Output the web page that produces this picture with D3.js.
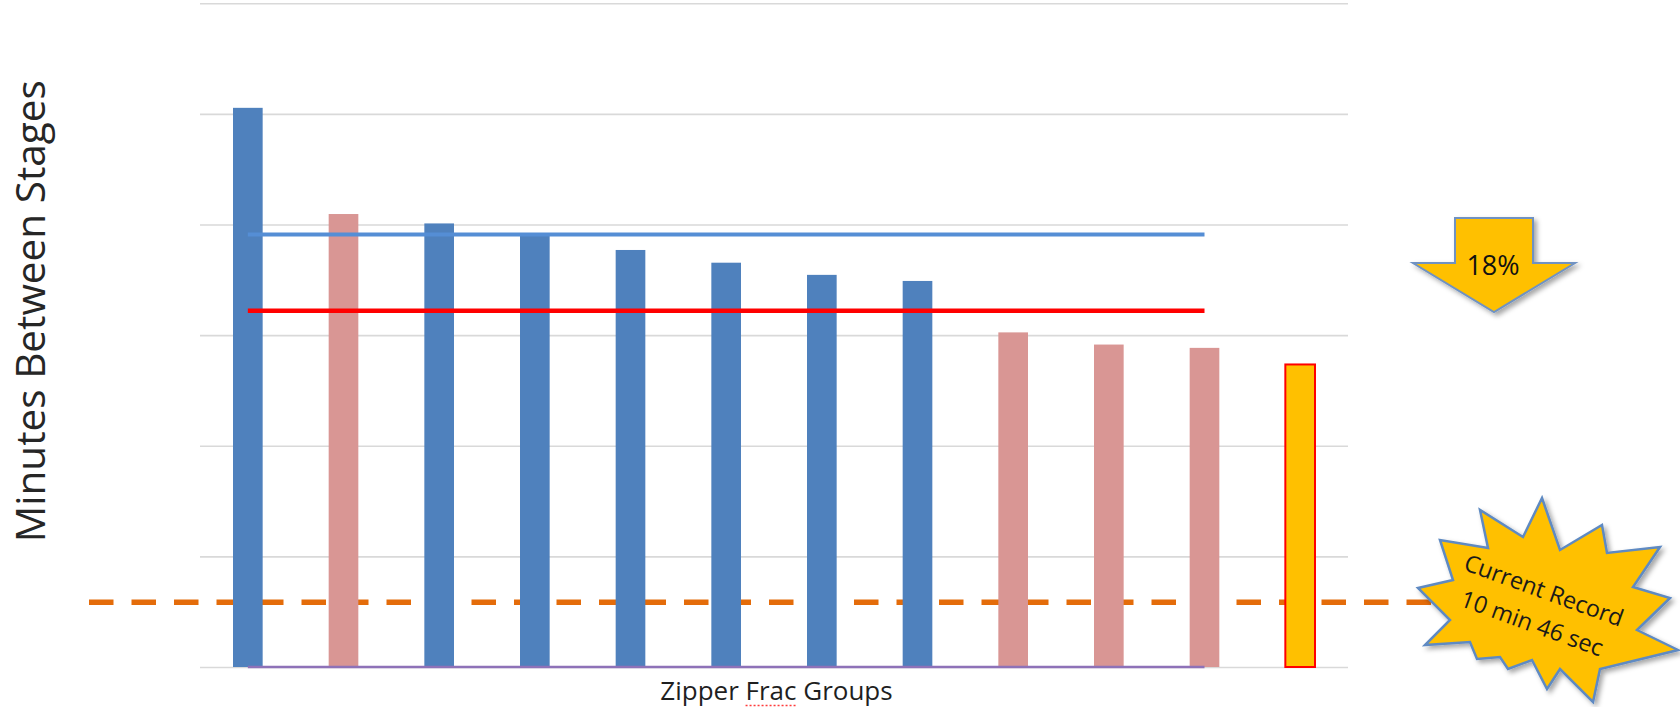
<!DOCTYPE html>
<html><head><meta charset="utf-8">
<script src="https://cdn.jsdelivr.net/npm/d3@7/dist/d3.min.js"></script>
<style>html,body{margin:0;padding:0;background:#fff;overflow:hidden}</style>
</head><body><svg id="chart" width="1680" height="707"></svg>
<script>
// ---------- data ----------
const categories = ["1","2","3","4","5","6","7","8","9","10","11","12"];
const groupTypes = ["blue","pink","blue","blue","blue","blue","blue","blue","pink","pink","pink","current"];
const minutes = [101.1, 81.9, 80.2, 78.1, 75.4, 73.1, 70.9, 69.8, 60.5, 58.3, 57.7, 54.7];
const lineCategories = ["1","2","3","4","5","6","7","8","9","10","11"];
const blueAverage = [78.2, 78.2, 78.2, 78.2, 78.2, 78.2, 78.2, 78.2, 78.2, 78.2, 78.2];
const redAverage  = [64.4, 64.4, 64.4, 64.4, 64.4, 64.4, 64.4, 64.4, 64.4, 64.4, 64.4];
const baseSeries  = [0, 0, 0, 0, 0, 0, 0, 0, 0, 0, 0];
const yTicks = [0, 20, 40, 60, 80, 100, 120];
const recordMinutes = 11.7;
const recordLabel = ["Current Record", "10 min 46 sec"];
const reductionLabel = "18%";
const xTitle = "Zipper Frac Groups";
const yTitle = "Minutes Between Stages";

// ---------- layout ----------
const svg = d3.select("#chart");
const plot = {left: 200, right: 1348, top: 3.3, bottom: 667};
const colors = {blue: "#4F81BD", pink: "#D99694", current: "#FFC000"};

const x = d3.scaleBand().domain(categories).range([plot.left, plot.right])
  .paddingInner(0.69).paddingOuter(0.345);
const y = d3.scaleLinear().domain([0, 120]).range([plot.bottom, plot.top]);
const cx = c => x(c) + x.bandwidth() / 2;

const defs = svg.append("defs");
defs.append("filter").attr("id", "shadow").attr("x", "-20%").attr("y", "-20%")
  .attr("width", "150%").attr("height", "150%")
  .append("feDropShadow").attr("dx", 3).attr("dy", 3).attr("stdDeviation", 2.5)
  .attr("flood-color", "#000").attr("flood-opacity", 0.35);

// gridlines
const grid = svg.append("g").attr("transform", `translate(${plot.left},0)`)
  .call(d3.axisLeft(y).tickValues(yTicks).tickSize(-(plot.right - plot.left)).tickFormat(""));
grid.select(".domain").remove();
grid.selectAll(".tick line").attr("stroke", "#D9D9D9").attr("stroke-width", 1.6);

// record dashed line (behind bars)
svg.append("line")
  .attr("x1", plot.left - 111).attr("x2", plot.right + 92)
  .attr("y1", y(recordMinutes)).attr("y2", y(recordMinutes))
  .attr("stroke", "#E46C0A").attr("stroke-width", 5.5)
  .attr("stroke-dasharray", "24.5 18");

// bars
svg.append("g").selectAll("rect").data(minutes).join("rect")
  .attr("x", (d, i) => x(categories[i]))
  .attr("y", d => y(d))
  .attr("width", x.bandwidth())
  .attr("height", d => y(0) - y(d))
  .attr("fill", (d, i) => colors[groupTypes[i]])
  .attr("stroke", (d, i) => groupTypes[i] === "current" ? "#FF0000" : "none")
  .attr("stroke-width", 2);

// average lines
const line = d3.line().x((d, i) => cx(lineCategories[i])).y(d => y(d));
svg.append("path").datum(baseSeries).attr("d", line)
  .attr("fill", "none").attr("stroke", "#8E72B8").attr("stroke-width", 2.5);
svg.append("path").datum(blueAverage).attr("d", line)
  .attr("fill", "none").attr("stroke", "#558ED5").attr("stroke-width", 4);
svg.append("path").datum(redAverage).attr("d", line)
  .attr("fill", "none").attr("stroke", "#FF0000").attr("stroke-width", 4.5);

// axis titles
svg.append("text")
  .attr("transform", `translate(45,${(plot.top + plot.bottom) / 2 - 24}) rotate(-90)`)
  .attr("text-anchor", "middle")
  .attr("font-family", "'Open Sans', sans-serif").attr("font-size", 40.5)
  .attr("fill", "#262626").text(yTitle);

const xt = svg.append("text")
  .attr("x", (plot.left + plot.right) / 2 + 2.5).attr("y", 700)
  .attr("text-anchor", "middle")
  .attr("font-family", "'Open Sans', sans-serif").attr("font-size", 26)
  .attr("fill", "#1f1f1f").text(xTitle);
// spell-check squiggle under "Frac"
(function () {
  const n = xt.node();
  const s = n.getStartPositionOfChar(7).x, e = n.getEndPositionOfChar(10).x;
  svg.append("line").attr("x1", s).attr("x2", e).attr("y1", 705.5).attr("y2", 705.5)
    .attr("stroke", "#FF3B3B").attr("stroke-width", 1.5).attr("stroke-dasharray", "2 2");
})();

// 18% arrow
const ax = 1494;
const arrowPath = d3.path();
arrowPath.moveTo(ax - 39, 218); arrowPath.lineTo(ax + 39, 218); arrowPath.lineTo(ax + 39, 263);
arrowPath.lineTo(ax + 81, 263); arrowPath.lineTo(ax, 312); arrowPath.lineTo(ax - 81, 263);
arrowPath.lineTo(ax - 39, 263); arrowPath.closePath();
svg.append("path").attr("d", arrowPath.toString())
  .attr("fill", "#FFC000").attr("stroke", "#6F92C2").attr("stroke-width", 2)
  .attr("stroke-linejoin", "miter").attr("filter", "url(#shadow)");
svg.append("text").attr("x", ax - 1).attr("y", 275).attr("text-anchor", "middle")
  .attr("font-family", "'Open Sans', sans-serif").attr("font-size", 27)
  .attr("fill", "#111").text(reductionLabel);

// record explosion
const starPts = [
  [1542,498],[1560,550],[1602,525],[1607,553],[1660,547],[1633,587],[1670,598],[1637,630],
  [1678,650],[1600,669],[1593,702],[1560,669],[1547,689],[1532,660],[1508,669],[1500,657],
  [1477,659],[1470,642],[1425,645],[1450,620],[1418,588],[1453,580],[1440,540],[1488,548],
  [1480,510],[1523,537]
];
svg.append("path").attr("d", d3.line()(starPts) + "Z")
  .attr("fill", "#FFC000").attr("stroke", "#5F8AC2").attr("stroke-width", 2.5)
  .attr("stroke-linejoin", "miter").attr("filter", "url(#shadow)");
const sg = svg.append("g").attr("transform", "translate(1539,607) rotate(20)");
sg.selectAll("text").data(recordLabel).join("text")
  .attr("x", -1).attr("y", (d, i) => i === 0 ? -9 : 26)
  .attr("text-anchor", "middle")
  .attr("font-family", "'Open Sans', sans-serif").attr("font-size", 23.5)
  .attr("fill", "#1a1a1a").text(d => d);
</script></body></html>
